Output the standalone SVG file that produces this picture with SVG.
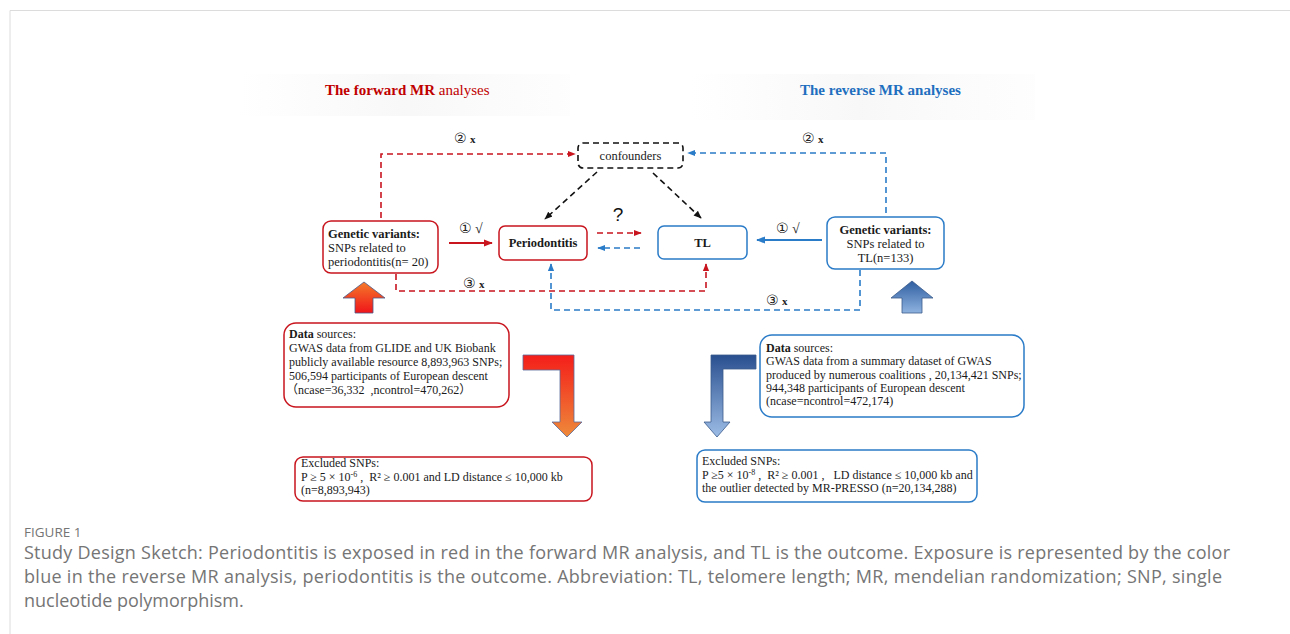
<svg xmlns="http://www.w3.org/2000/svg" width="1290" height="634" viewBox="0 0 1290 634">
<defs>
<style>
.t{font-family:"Liberation Serif","DejaVu Serif","Noto Sans CJK SC",serif;font-size:12.5px;fill:#1a1a1a}
.s{font-size:12px}
.b{font-weight:bold}
.num{font-family:"Liberation Serif","DejaVu Sans",serif;font-size:14px;fill:#222}
.rbox{fill:#fff;stroke:#c8151e;stroke-width:1.5}
.bbox{fill:#fff;stroke:#2a7bc8;stroke-width:1.5}
.rd{fill:none;stroke:#c8151e;stroke-width:1.6;stroke-dasharray:6 4}
.bd{fill:none;stroke:#2a7bc8;stroke-width:1.6;stroke-dasharray:6 4}
.kd{fill:none;stroke:#111;stroke-width:1.6;stroke-dasharray:6 4}
.cap{font-family:"Open Sans","Noto Sans",sans-serif;fill:#757575}
</style>
<marker id="mr" viewBox="0 0 10 10" refX="9" refY="5" markerWidth="5" markerHeight="5" orient="auto"><path d="M0,1 L10,5 L0,9 z" fill="#c8151e"/></marker>
<marker id="mb" viewBox="0 0 10 10" refX="9" refY="5" markerWidth="5" markerHeight="5" orient="auto"><path d="M0,1 L10,5 L0,9 z" fill="#2a7bc8"/></marker>
<marker id="mk" viewBox="0 0 10 10" refX="9" refY="5" markerWidth="5" markerHeight="5" orient="auto"><path d="M0,1 L10,5 L0,9 z" fill="#111"/></marker>
<linearGradient id="gUp" x1="0" y1="0" x2="0" y2="1"><stop offset="0" stop-color="#f47a2a"/><stop offset="1" stop-color="#f0141a"/></linearGradient>
<linearGradient id="gDown" x1="0" y1="0" x2="0" y2="1"><stop offset="0" stop-color="#f41e1a"/><stop offset="1" stop-color="#ee8a3a"/></linearGradient>
<linearGradient id="gBUp" x1="0" y1="0" x2="0" y2="1"><stop offset="0" stop-color="#2f5ea0"/><stop offset="1" stop-color="#8fb3e0"/></linearGradient>
<linearGradient id="gBDown" x1="0" y1="0" x2="0" y2="1"><stop offset="0" stop-color="#294f8f"/><stop offset="1" stop-color="#9dbde6"/></linearGradient>
<linearGradient id="shade" x1="0" y1="0" x2="1" y2="0"><stop offset="0" stop-color="#f4f4f4" stop-opacity="0"/><stop offset="0.5" stop-color="#f3f3f3"/><stop offset="1" stop-color="#f6f6f6" stop-opacity="0.3"/></linearGradient>
</defs>
<rect width="1290" height="634" fill="#fff"/>
<path d="M10,634 V10.5 H1290" fill="none" stroke="#dcdcdc" stroke-width="1"/>

<g id="title-forward">
<rect x="240" y="74" width="330" height="42" fill="url(#shade)" opacity="0.6"/>
<text x="325" y="95" font-family="Liberation Serif,serif" font-size="15" fill="#c00000"><tspan font-weight="bold">The forward MR</tspan> analyses</text>
</g>
<g id="title-reverse">
<rect x="690" y="74" width="345" height="46" fill="url(#shade)" opacity="0.6"/>
<text x="800" y="95" font-family="Liberation Serif,serif" font-size="15" font-weight="bold" fill="#1f6fbf">The reverse MR analyses</text>
</g>

<g id="connectors">
<path class="rd" d="M381,218 V154 H575" marker-end="url(#mr)"/>
<path class="bd" d="M886,213 V153 H688" marker-end="url(#mb)"/>
<path class="kd" d="M597,172 L545,219" marker-end="url(#mk)"/>
<path class="kd" d="M653,173 L701,218" marker-end="url(#mk)"/>
<path d="M449,243 H492" stroke="#c8151e" stroke-width="1.8" fill="none" marker-end="url(#mr)"/>
<path d="M822,240 H757" stroke="#2a7bc8" stroke-width="1.8" fill="none" marker-end="url(#mb)"/>
<path class="rd" d="M597,233 H641" marker-end="url(#mr)"/>
<path class="bd" d="M640,248 H598" marker-end="url(#mb)"/>
<path class="rd" d="M396,274 V291 H706 V264" marker-end="url(#mr)"/>
<path class="bd" d="M860,270 V310 H551 V264" marker-end="url(#mb)"/>
<text class="num" x="454" y="143">② <tspan font-weight="bold" font-size="11">x</tspan></text>
<text class="num" x="802" y="143">② <tspan font-weight="bold" font-size="11">x</tspan></text>
<text class="num" x="459" y="233">① √</text>
<text class="num" x="776" y="233">① √</text>
<text class="num" x="463" y="288">③ <tspan font-weight="bold" font-size="11">x</tspan></text>
<text class="num" x="766" y="305">③ <tspan font-weight="bold" font-size="11">x</tspan></text>
<text x="618" y="221" font-family="Liberation Sans,sans-serif" font-size="19" fill="#111" text-anchor="middle">?</text>
</g>

<g id="confounders">
<rect x="578" y="143" width="105" height="25" rx="5" fill="#fff" stroke="#111" stroke-width="1.6" stroke-dasharray="6 4"/>
<text class="t" x="630.5" y="160" text-anchor="middle" font-size="13">confounders</text>
</g>

<g id="genetic-left">
<rect class="rbox" x="323" y="221" width="115" height="52" rx="8"/>
<text class="t" x="328" y="238"><tspan class="b">Genetic variants:</tspan><tspan x="328" dy="14">SNPs related to</tspan><tspan x="328" dy="14">periodontitis(n= 20)</tspan></text>
</g>

<g id="periodontitis">
<rect class="rbox" x="499" y="226" width="88" height="34" rx="6"/>
<text class="t b" x="543" y="247" text-anchor="middle">Periodontitis</text>
</g>

<g id="tl">
<rect class="bbox" x="658" y="226" width="89" height="33" rx="6"/>
<text class="t b" x="702.5" y="247" text-anchor="middle">TL</text>
</g>

<g id="genetic-right">
<rect class="bbox" x="827" y="217" width="117" height="52" rx="8"/>
<text class="t" x="885.5" y="234" text-anchor="middle"><tspan class="b">Genetic variants:</tspan><tspan x="885.5" dy="14">SNPs related to</tspan><tspan x="885.5" dy="14">TL(n=133)</tspan></text>
</g>

<g id="arrow-up-left">
<path d="M355,313 V298 H343 L364,282 L385,298 H373 V313 Z" fill="url(#gUp)" stroke="#4a5a8a" stroke-width="0.8"/>
</g>
<g id="arrow-up-right">
<path d="M902,313 V298 H891 L912,281 L933,298 H922 V313 Z" fill="url(#gBUp)" stroke="#3a5a8a" stroke-width="0.8"/>
</g>

<g id="data-left">
<rect class="rbox" x="284" y="323" width="225" height="84" rx="12"/>
<text class="t s" x="289" y="338"><tspan class="b">Data</tspan> sources:<tspan x="289" dy="14">GWAS data from GLIDE and UK Biobank</tspan><tspan x="289" dy="14">publicly available resource 8,893,963 SNPs;</tspan><tspan x="289" dy="14">506,594 participants of European descent</tspan><tspan x="286" dy="14">（ncase=36,332 &#160;,ncontrol=470,262）</tspan></text>
</g>

<g id="arrow-down-left">
<path d="M523,355 H574 V422 H582 L567,437 L552,422 H560 V370 H523 Z" fill="url(#gDown)" stroke="#5a6a9a" stroke-width="0.8"/>
</g>
<g id="arrow-down-right">
<path d="M756,355 H711 V422 H704 L717,437 L730,422 H723 V369 H756 Z" fill="url(#gBDown)" stroke="#3a5a8a" stroke-width="0.8"/>
</g>

<g id="data-right">
<rect class="bbox" x="760" y="335" width="264" height="82" rx="12"/>
<text class="t s" x="766" y="352"><tspan class="b">Data</tspan> sources:<tspan x="766" dy="13.3">GWAS data from a summary dataset of GWAS</tspan><tspan x="766" dy="13.3">produced by numerous coalitions , 20,134,421 SNPs;</tspan><tspan x="766" dy="13.3">944,348 participants of European descent</tspan><tspan x="766" dy="13.3">(ncase=ncontrol=472,174)</tspan></text>
</g>

<g id="excluded-left">
<rect class="rbox" x="295" y="457" width="297" height="44" rx="8"/>
<text class="t s" x="301" y="467">Excluded SNPs:<tspan x="301" dy="13.5">P ≥ 5 × 10</tspan><tspan font-size="8" dy="-4">-6</tspan><tspan dy="4"> , &#160;R² ≥ 0.001 and LD distance ≤ 10,000 kb</tspan><tspan x="301" dy="13.5">(n=8,893,943)</tspan></text>
</g>

<g id="excluded-right">
<rect class="bbox" x="697" y="450" width="280" height="52" rx="8"/>
<text class="t s" x="702" y="465">Excluded SNPs:<tspan x="702" dy="13.5">P ≥5 × 10</tspan><tspan font-size="8" dy="-4">-8</tspan><tspan dy="4"> , &#160;R² ≥ 0.001 , &#160;&#160;LD distance ≤ 10,000 kb and</tspan><tspan x="702" dy="13.5">the outlier detected by MR-PRESSO (n=20,134,288)</tspan></text>
</g>

<g id="caption">
<text class="cap" x="24" y="537" font-size="13.5">FIGURE 1</text>
<text class="cap" x="24" y="559" font-size="18" textLength="1206" lengthAdjust="spacing">Study Design Sketch: Periodontitis is exposed in red in the forward MR analysis, and TL is the outcome. Exposure is represented by the color</text>
<text class="cap" x="24" y="583" font-size="18" textLength="1198" lengthAdjust="spacing">blue in the reverse MR analysis, periodontitis is the outcome. Abbreviation: TL, telomere length; MR, mendelian randomization; SNP, single</text>
<text class="cap" x="24" y="607" font-size="18">nucleotide polymorphism.</text>
</g>
</svg>
